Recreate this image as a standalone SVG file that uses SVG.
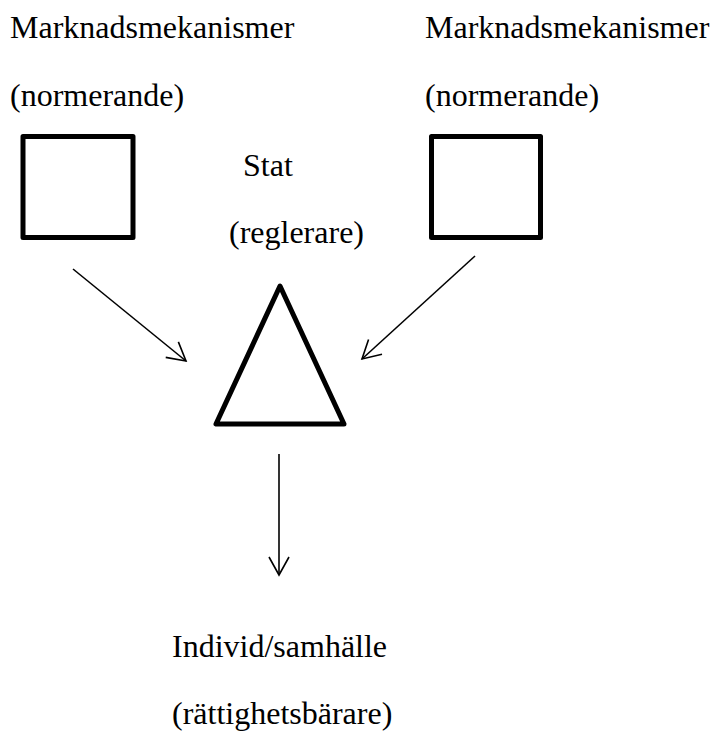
<svg xmlns="http://www.w3.org/2000/svg" width="710" height="733" viewBox="0 0 710 733">
<style>
.t{font-family:"Liberation Serif","Times New Roman",serif;font-size:32px;fill:#000}
.shape{fill:none;stroke:#000;stroke-width:5;stroke-linejoin:round}
.conn{fill:none;stroke:#000;stroke-width:1.6}
</style>
<defs>
<marker id="arr" markerUnits="userSpaceOnUse" viewBox="-21 -12 23 24" markerWidth="23" markerHeight="24" refX="0" refY="0" orient="auto">
<path d="M-18,-10 L0,0 L-18,10" fill="none" stroke="#000" stroke-width="1.6"/>
</marker>
</defs>
<rect width="710" height="733" fill="#fff"/>
<g id="market-left">
<text class="t" x="10" y="38">Marknadsmekanismer</text>
<text class="t" x="10" y="106">(normerande)</text>
<rect class="shape" x="23" y="136.5" width="110" height="101"/>
</g>
<g id="market-right">
<text class="t" x="425" y="38">Marknadsmekanismer</text>
<text class="t" x="425" y="106">(normerande)</text>
<rect class="shape" x="431.5" y="136.5" width="109" height="101"/>
</g>
<g id="stat">
<text class="t" x="243" y="176">Stat</text>
<text class="t" x="229" y="243">(reglerare)</text>
<polygon class="shape" points="280,286 216,424 344,424"/>
</g>
<g id="individ">
<text class="t" x="172" y="657">Individ/samhälle</text>
<text class="t" x="172" y="724">(rättighetsbärare)</text>
</g>
<g id="connectors">
<line class="conn" x1="73" y1="269" x2="186" y2="361" marker-end="url(#arr)"/>
<line class="conn" x1="475" y1="256" x2="362" y2="359" marker-end="url(#arr)"/>
<line class="conn" x1="279" y1="454" x2="279" y2="575" marker-end="url(#arr)"/>
</g>
</svg>
